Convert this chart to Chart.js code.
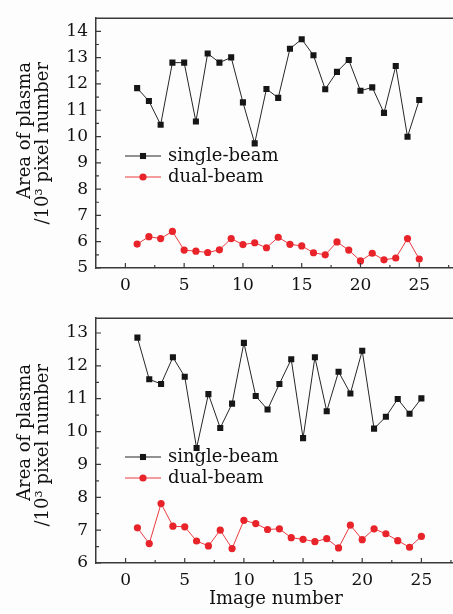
<!DOCTYPE html>
<html><head><meta charset="utf-8">
<script src="https://cdn.jsdelivr.net/npm/chart.js@4.4.0/dist/chart.umd.min.js"></script>
<style>
html,body{margin:0;padding:0;background:#fdfdfd;overflow:hidden;width:453px;height:614px;}
.wrap{position:absolute;left:0;width:460px;}
#w1{top:0;height:300px}
#w2{top:300px;height:314px}
canvas{display:block}
</style></head><body>
<div class="wrap" id="w1"><canvas id="c1" width="460" height="300"></canvas></div>
<div class="wrap" id="w2"><canvas id="c2" width="460" height="314"></canvas></div>
<script>
const imageNumbers = [1,2,3,4,5,6,7,8,9,10,11,12,13,14,15,16,17,18,19,20,21,22,23,24,25];
const singleTop = [11.84,11.35,10.45,12.81,12.81,10.57,13.16,12.81,13.01,11.30,9.74,11.81,11.47,13.34,13.70,13.09,11.80,12.46,12.91,11.74,11.87,10.90,12.68,9.99,11.39];
const dualTop = [5.91,6.19,6.12,6.39,5.68,5.64,5.59,5.69,6.12,5.89,5.96,5.77,6.17,5.90,5.84,5.58,5.50,5.99,5.68,5.27,5.56,5.31,5.38,6.12,5.34];
const singleBottom = [12.86,11.59,11.45,12.26,11.67,9.50,11.14,10.11,10.85,12.70,11.08,10.67,11.45,12.20,9.80,12.26,10.62,11.82,11.16,12.46,10.09,10.45,10.99,10.54,11.01];
const dualBottom = [7.07,6.59,7.81,7.12,7.10,6.67,6.52,7.00,6.44,7.30,7.20,7.02,7.04,6.77,6.72,6.65,6.74,6.46,7.15,6.71,7.04,6.89,6.68,6.48,6.81];
const xTickValues = [0,5,10,15,20,25];
const yTicksTop = [5,6,7,8,9,10,11,12,13,14];
const yTicksBottom = [6,7,8,9,10,11,12,13];
const seriesLabels = ['single-beam','dual-beam'];
const yTitleLines = ['Area of plasma','/10\u00B3 pixel number'];
const xTitleText = 'Image number';

const SERIF = '"DejaVu Serif", "Liberation Serif", serif';
const AXIS = '#3a3a3a';

function pts(vals){ return imageNumbers.map((n,i)=>({x:n,y:vals[i]})); }

function datasets(single, dual){
  return [
    {label:seriesLabels[0], data:pts(single), borderColor:'#262626', backgroundColor:'#161616', borderWidth:1,
     pointStyle:'rect', pointRadius:4.3, pointBorderWidth:0, pointHoverRadius:4.3, tension:0},
    {label:seriesLabels[1], data:pts(dual), borderColor:'#ea3a3f', backgroundColor:'#e8232a', borderWidth:1,
     pointStyle:'circle', pointRadius:3.6, pointBorderWidth:0, pointHoverRadius:3.6, tension:0}
  ];
}

const decor = {
  id:'decor',
  afterDraw(chart, args, o){
    const {ctx, chartArea:a, scales:{x, y}} = chart;
    ctx.save();
    ctx.strokeStyle = AXIS; ctx.lineWidth = 1.5;
    ctx.beginPath(); ctx.moveTo(a.left, a.top); ctx.lineTo(a.right+2, a.top); ctx.stroke();
    ctx.lineWidth = 1.2;
    ctx.beginPath();
    xTickValues.forEach(v=>{
      const p = x.getPixelForValue(v);
      ctx.moveTo(p, a.bottom); ctx.lineTo(p, a.bottom-5);
      const m = x.getPixelForValue(v+2.5);
      if (m < a.right) { ctx.moveTo(m, a.bottom); ctx.lineTo(m, a.bottom-3); }
    });
    o.yTicks.forEach(v=>{
      const p = y.getPixelForValue(v);
      ctx.moveTo(a.left, p); ctx.lineTo(a.left+5, p);
      const m = y.getPixelForValue(v+0.5);
      if (m > a.top) { ctx.moveTo(a.left, m); ctx.lineTo(a.left+3, m); }
    });
    ctx.stroke();
    // legend
    chart.data.datasets.forEach((ds,i)=>{
      const yy = o.legendY[i];
      ctx.strokeStyle = ds.borderColor; ctx.lineWidth = 1;
      ctx.beginPath(); ctx.moveTo(125, yy); ctx.lineTo(161, yy); ctx.stroke();
      ctx.fillStyle = ds.backgroundColor;
      ctx.beginPath();
      if (ds.pointStyle === 'rect') { const s = ds.pointRadius*Math.SQRT1_2; ctx.rect(143-s, yy-s, 2*s, 2*s); }
      else { ctx.arc(143, yy, ds.pointRadius, 0, Math.PI*2); }
      ctx.fill();
      ctx.fillStyle = '#111';
      ctx.font = '18px ' + SERIF;
      ctx.textAlign = 'left'; ctx.textBaseline = 'middle';
      ctx.fillText(ds.label, 168, yy);
    });
    // y title
    ctx.fillStyle = '#111';
    ctx.font = '18px ' + SERIF;
    yTitleLines.forEach((t,i)=>{
      ctx.save();
      ctx.translate(o.titleX[i], o.titleEnd);
      ctx.rotate(-Math.PI/2);
      ctx.textAlign = 'right'; ctx.textBaseline = 'middle';
      ctx.fillText(t, 0, 0);
      ctx.restore();
    });
    ctx.restore();
  }
};

function makeChart(id, single, dual, yMin, yMax, yTicks, xMax, padTop, xHeight, showXTitle, legendY, titleEnd){
  return new Chart(document.getElementById(id), {
    type:'line',
    data:{datasets:datasets(single, dual)},
    plugins:[decor],
    options:{
      responsive:false, animation:false, devicePixelRatio:1,
      layout:{padding:{top:padTop, left:0, right:0, bottom:0}},
      plugins:{legend:{display:false}, tooltip:{enabled:false},
        decor:{yTicks:yTicks, legendY:legendY, titleX:[25,43], titleEnd:titleEnd}},
      scales:{
        x:{type:'linear', min:-2.5, max:xMax,
          grid:{display:false, drawTicks:false},
          border:{display:true, color:AXIS, width:1.5},
          afterBuildTicks:s=>{ s.ticks = xTickValues.map(v=>({value:v})); },
          afterFit:s=>{ s.height = xHeight; },
          ticks:{color:'#111', padding:7, maxRotation:0, font:{family:SERIF, size:17}},
          title:{display:showXTitle, text:xTitleText, color:'#111', font:{family:SERIF, size:18}, padding:{top:0,bottom:4}}
        },
        y:{min:yMin, max:yMax,
          grid:{display:false, drawTicks:false},
          border:{display:true, color:AXIS, width:1.5},
          afterBuildTicks:s=>{ s.ticks = yTicks.map(v=>({value:v})); },
          afterFit:s=>{ s.width = 96; },
          ticks:{color:'#111', padding:8, font:{family:SERIF, size:17}}
        }
      }
    }
  });
}

makeChart('c1', singleTop, dualTop, 5, 14.5, yTicksTop, 28.1, 8, 32, false, [156,177], 62);
makeChart('c2', singleBottom, dualBottom, 6, 13.45, yTicksBottom, 27.9, 1, 51, true, [157,178], 64);
</script>
</body></html>
